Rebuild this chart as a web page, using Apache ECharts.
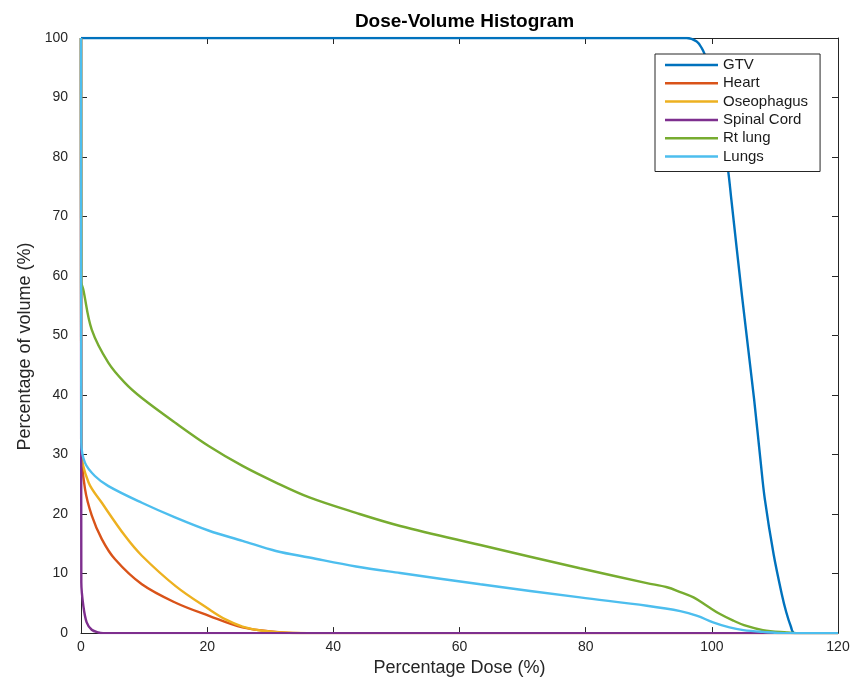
<!DOCTYPE html>
<html>
<head>
<meta charset="utf-8">
<script src="https://cdn.jsdelivr.net/npm/echarts@6/dist/echarts.min.js"></script>
<style>
html,body{margin:0;padding:0;background:#fff;}
#chart{width:853px;height:682px;}
</style>
</head>
<body>
<div id="chart"></div>
<script>
// ---- Data (dose %, volume %) ----
var seriesNames = ['GTV', 'Heart', 'Oseophagus', 'Spinal Cord', 'Rt lung', 'Lungs'];
var xTicks = [0, 20, 40, 60, 80, 100, 120];
var yTicks = [0, 10, 20, 30, 40, 50, 60, 70, 80, 90, 100];

var gtv = [[0,100],[96,100],[97.6,99.4],[98.4,98.3],[98.9,97.2],[99.5,95.5],[100.5,91.5],[101.5,85.5],[102.6,77.6],[103.1,72.8],[104.8,56.5],[106.7,39.3],[107.7,29.2],[108.4,22.5],[109.8,13.2],[111.1,6.5],[111.8,3.5],[112.5,1.2],[113.1,0],[120,0]];
var heart = [[0,100],[0.05,31],[0.64,24.2],[1.7,19.8],[3.3,15.8],[5.4,12.4],[9.65,8.2],[15,5.1],[20.3,2.9],[25.6,0.95],[30.9,0.2],[35,0],[120,0]];
var oesophagus = [[0,100],[0.05,30.5],[1.2,25.3],[3.3,21.9],[7,16.3],[9.65,13.0],[15,7.9],[20.3,4.0],[22.9,2.3],[25.6,1.1],[28.7,0.4],[33,0.05],[36,0],[120,0]];
var spinalCord = [[0,100],[0.05,8.5],[0.37,4.6],[0.9,1.8],[1.7,0.56],[2.75,0.1],[3.5,0],[120,0]];
var rtLung = [[0,100],[0.05,59],[0.37,57.7],[1.7,51],[4.35,45.4],[7,42],[9.65,39.5],[15,35.3],[20.3,31.4],[25.6,28.1],[30.9,25.3],[36.2,22.8],[43.6,20.2],[50.6,18],[63.3,14.8],[79.1,10.9],[89.7,8.4],[92.9,7.7],[95,6.9],[97.1,6.0],[99.2,4.6],[101.3,3.2],[103.4,2.1],[105.5,1.2],[108.1,0.5],[111.9,0.1],[113.5,0],[120,0]];
var lungs = [[0,100],[0.05,32],[0.64,28.6],[2.2,26.4],[4.35,24.7],[9.65,21.9],[15,19.4],[20.3,17.2],[25.6,15.5],[30.9,13.8],[36.2,12.7],[43.6,11.2],[50.6,10.1],[63.3,8.2],[79.1,6.0],[89.7,4.6],[95,3.7],[97.7,2.9],[100.2,1.8],[102.8,0.95],[105,0.5],[108.1,0.2],[111.5,0],[120,0]];

var seriesData = [gtv, heart, oesophagus, spinalCord, rtLung, lungs];
var colors = ['#0072BD', '#D95319', '#EDB120', '#7E2F8E', '#77AC30', '#4DBEEE'];

var FONT = '"Liberation Sans", Arial, Helvetica, sans-serif';
var AXC = '#262626';

var chart = echarts.init(document.getElementById('chart'), null, {renderer: 'canvas'});

var series = seriesNames.map(function (n, i) {
  return {
    name: n,
    type: 'line',
    data: seriesData[i],
    showSymbol: false,
    symbol: 'none',
    smooth: 0.35,
    lineStyle: {width: 2.4, color: colors[i]},
    itemStyle: {color: colors[i]},
    z: 2 + i,
    animation: false
  };
});

var axisCommon = {
  type: 'value',
  axisLine: {show: true, onZero: false, lineStyle: {color: AXC, width: 1}},
  axisTick: {show: true, inside: true, length: 6, lineStyle: {color: AXC, width: 1}},
  splitLine: {show: false}
};

var option = {
  backgroundColor: '#ffffff',
  animation: false,
  color: colors,
  title: {
    text: 'Dose-Volume Histogram',
    left: 459.5,
    top: 7,
    textAlign: 'center',
    textStyle: {fontFamily: FONT, fontSize: 19, fontWeight: 'bold', color: '#000'}
  },
  grid: {left: 81, right: 15, top: 38, bottom: 48, containLabel: false},
  legend: {
    data: seriesNames,
    orient: 'vertical',
    left: 655,
    top: 54,
    icon: 'rect',
    itemWidth: 53,
    itemHeight: 2.5,
    itemGap: 2.3,
    padding: [3, 12, 7, 10],
    backgroundColor: '#ffffff',
    borderColor: AXC,
    borderWidth: 1,
    borderRadius: 0,
    textStyle: {fontFamily: FONT, fontSize: 15, color: '#1a1a1a', lineHeight: 16},
    z: 20
  },
  xAxis: [
    Object.assign({}, axisCommon, {
      position: 'bottom',
      min: xTicks[0], max: xTicks[xTicks.length - 1], interval: 20,
      name: 'Percentage Dose (%)',
      nameLocation: 'middle',
      nameGap: 18,
      nameTextStyle: {fontFamily: FONT, fontSize: 18, color: AXC},
      axisLabel: {fontFamily: FONT, fontSize: 14, color: AXC, margin: 7}
    }),
    Object.assign({}, axisCommon, {
      position: 'top',
      min: xTicks[0], max: xTicks[xTicks.length - 1], interval: 20,
      axisLabel: {show: false}
    })
  ],
  yAxis: [
    Object.assign({}, axisCommon, {
      position: 'left',
      min: yTicks[0], max: yTicks[yTicks.length - 1], interval: 10,
      name: 'Percentage of volume (%)',
      nameLocation: 'middle',
      nameGap: 33,
      nameTextStyle: {fontFamily: FONT, fontSize: 18, color: AXC, padding: [0, 22, 0, 0]},
      axisLabel: {fontFamily: FONT, fontSize: 14, color: AXC, margin: 13}
    }),
    Object.assign({}, axisCommon, {
      position: 'right',
      min: yTicks[0], max: yTicks[yTicks.length - 1], interval: 10,
      axisLabel: {show: false}
    })
  ],
  series: series
};

chart.setOption(option);
</script>
</body>
</html>
